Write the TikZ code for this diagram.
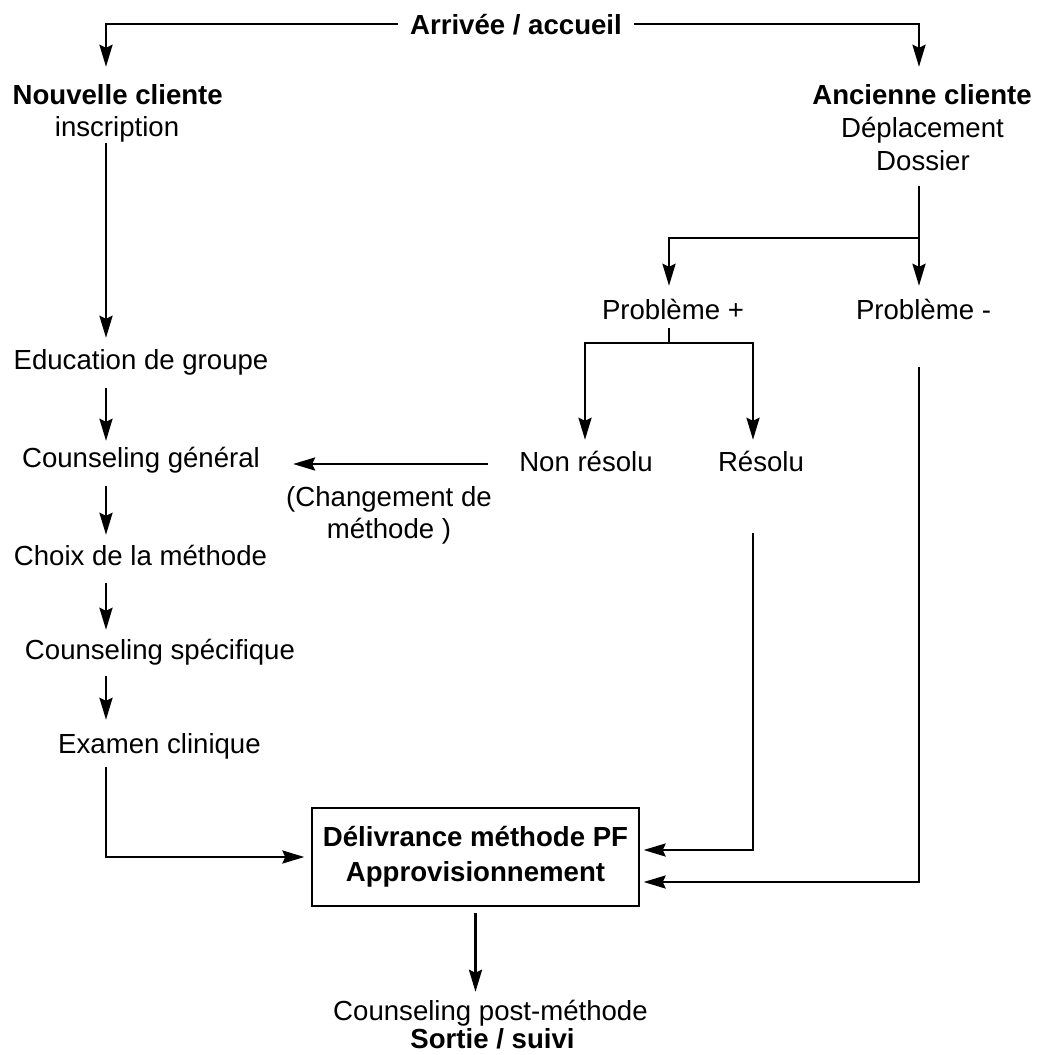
\documentclass[tikz,border=0pt]{standalone}
\usepackage{fontspec}
\setmainfont{Liberation Sans}
\usetikzlibrary{arrows.meta}
\begin{document}
\begin{tikzpicture}[x=1pt,y=-1pt,
  txt/.style={inner sep=0pt, anchor=base, text height=20pt, text depth=6pt,
    font=\fontsize{27.6}{32}\selectfont},
  btxt/.style={txt, font=\fontsize{27.6}{32}\selectfont\bfseries},
  wire/.style={line width=2.6pt},
  link/.style={wire, -{Stealth[length=22pt,width=13pt,inset=3pt]}},
  framebox/.style={draw, line width=1.3pt, minimum width=327pt, minimum height=98pt,
    inner sep=0pt, align=center, font=\fontsize{27.6}{35}\selectfont\bfseries},
]
\useasboundingbox (0,0) rectangle (1039,1055);

% vertical lanes used by the connectors
\coordinate (laneL) at (106,0);
\coordinate (laneR) at (919,0);
\coordinate (laneP) at (669,0);
\coordinate (laneN) at (585,0);
\coordinate (laneS) at (753,0);

% labels
\node[btxt] (arr) at (516,34) {Arrivée / accueil};
\node[btxt] (nouv) at (117.7,104) {Nouvelle cliente};
\node[txt] (insc) at (117,136) {inscription};
\node[btxt] (anc) at (922,104) {Ancienne cliente};
\node[txt] (depl) at (922.5,137) {Déplacement};
\node[txt] (doss) at (923,170) {Dossier};
\node[txt] (edu) at (141,369) {Education de groupe};
\node[txt] (cg) at (141,467) {Counseling général};
\node[txt] (choix) at (140.5,565) {Choix de la méthode};
\node[txt] (cs) at (160,659) {Counseling spécifique};
\node[txt] (ec) at (159.5,753) {Examen clinique};
\node[txt] (pplus) at (673,319) {Problème +};
\node[txt] (pminus) at (923.5,319) {Problème -};
\node[txt] (nonres) at (586,471) {Non résolu};
\node[txt] (res) at (761,471) {Résolu};
\node[txt] (chg1) at (389,506) {(Changement de};
\node[txt] (chg2) at (389,538) {méthode )};
\node[framebox] (box) at (475.5,857) {Délivrance méthode PF\\Approvisionnement};
\node[txt] (cpm) at (490.5,1020) {Counseling post-méthode};
\node[btxt] (sortie) at (492.5,1048) {Sortie / suivi};

% arrival splits into the two branches
\draw[link, shorten >=17pt] ([xshift=-12pt,yshift=10pt]arr.base west) -| (laneL |- nouv.north);
\draw[link, shorten >=17pt] ([xshift=12pt,yshift=10pt]arr.base east) -| (laneR |- anc.north);

% new client path
\draw[link, shorten <=1pt, shorten >=11pt] (laneL |- insc.south) -- (laneL |- edu.north);
\draw[link, shorten <=13pt, shorten >=6pt] (laneL |- edu.south) -- (laneL |- cg.north);
\draw[link, shorten <=13pt, shorten >=10pt] (laneL |- cg.south) -- (laneL |- choix.north);
\draw[link, shorten <=12pt, shorten >=9pt] (laneL |- choix.south) -- (laneL |- cs.north);
\draw[link, shorten <=11pt, shorten >=13pt] (laneL |- cs.south) -- (laneL |- ec.north);
\draw[link, shorten <=8pt, shorten >=7pt] (laneL |- ec.south) |- (box.west);

% returning client path
\coordinate (splitA) at (919,238);
\draw[wire, shorten <=10pt] (laneR |- doss.south) -- (splitA);
\draw[link, shorten >=13pt] (splitA) -| (laneP |- pplus.north);
\draw[link, shorten >=13pt] (splitA) -- (laneR |- pminus.north);
\coordinate (splitB) at (669,343);
\draw[wire, shorten <=3pt] (laneP |- pplus.south) -- (splitB);
\draw[link, shorten >=11pt] (splitB) -| (laneN |- nonres.north);
\draw[link, shorten >=11pt] (splitB) -| (laneS |- res.north);
\draw[link, shorten <=31pt, shorten >=33pt] (nonres.west) -- (nonres.west -| cg.east);
\draw[link, shorten <=56pt, shorten >=4pt] (laneS |- res.south) |- ([yshift=7pt]box.east);
\draw[link, shorten <=42pt, shorten >=4pt] (laneR |- pminus.south) |- ([yshift=-25pt]box.east);

% exit
\draw[link, shorten <=6pt, shorten >=8pt] (box.south) -- (box.south |- cpm.north);
\end{tikzpicture}
\end{document}
